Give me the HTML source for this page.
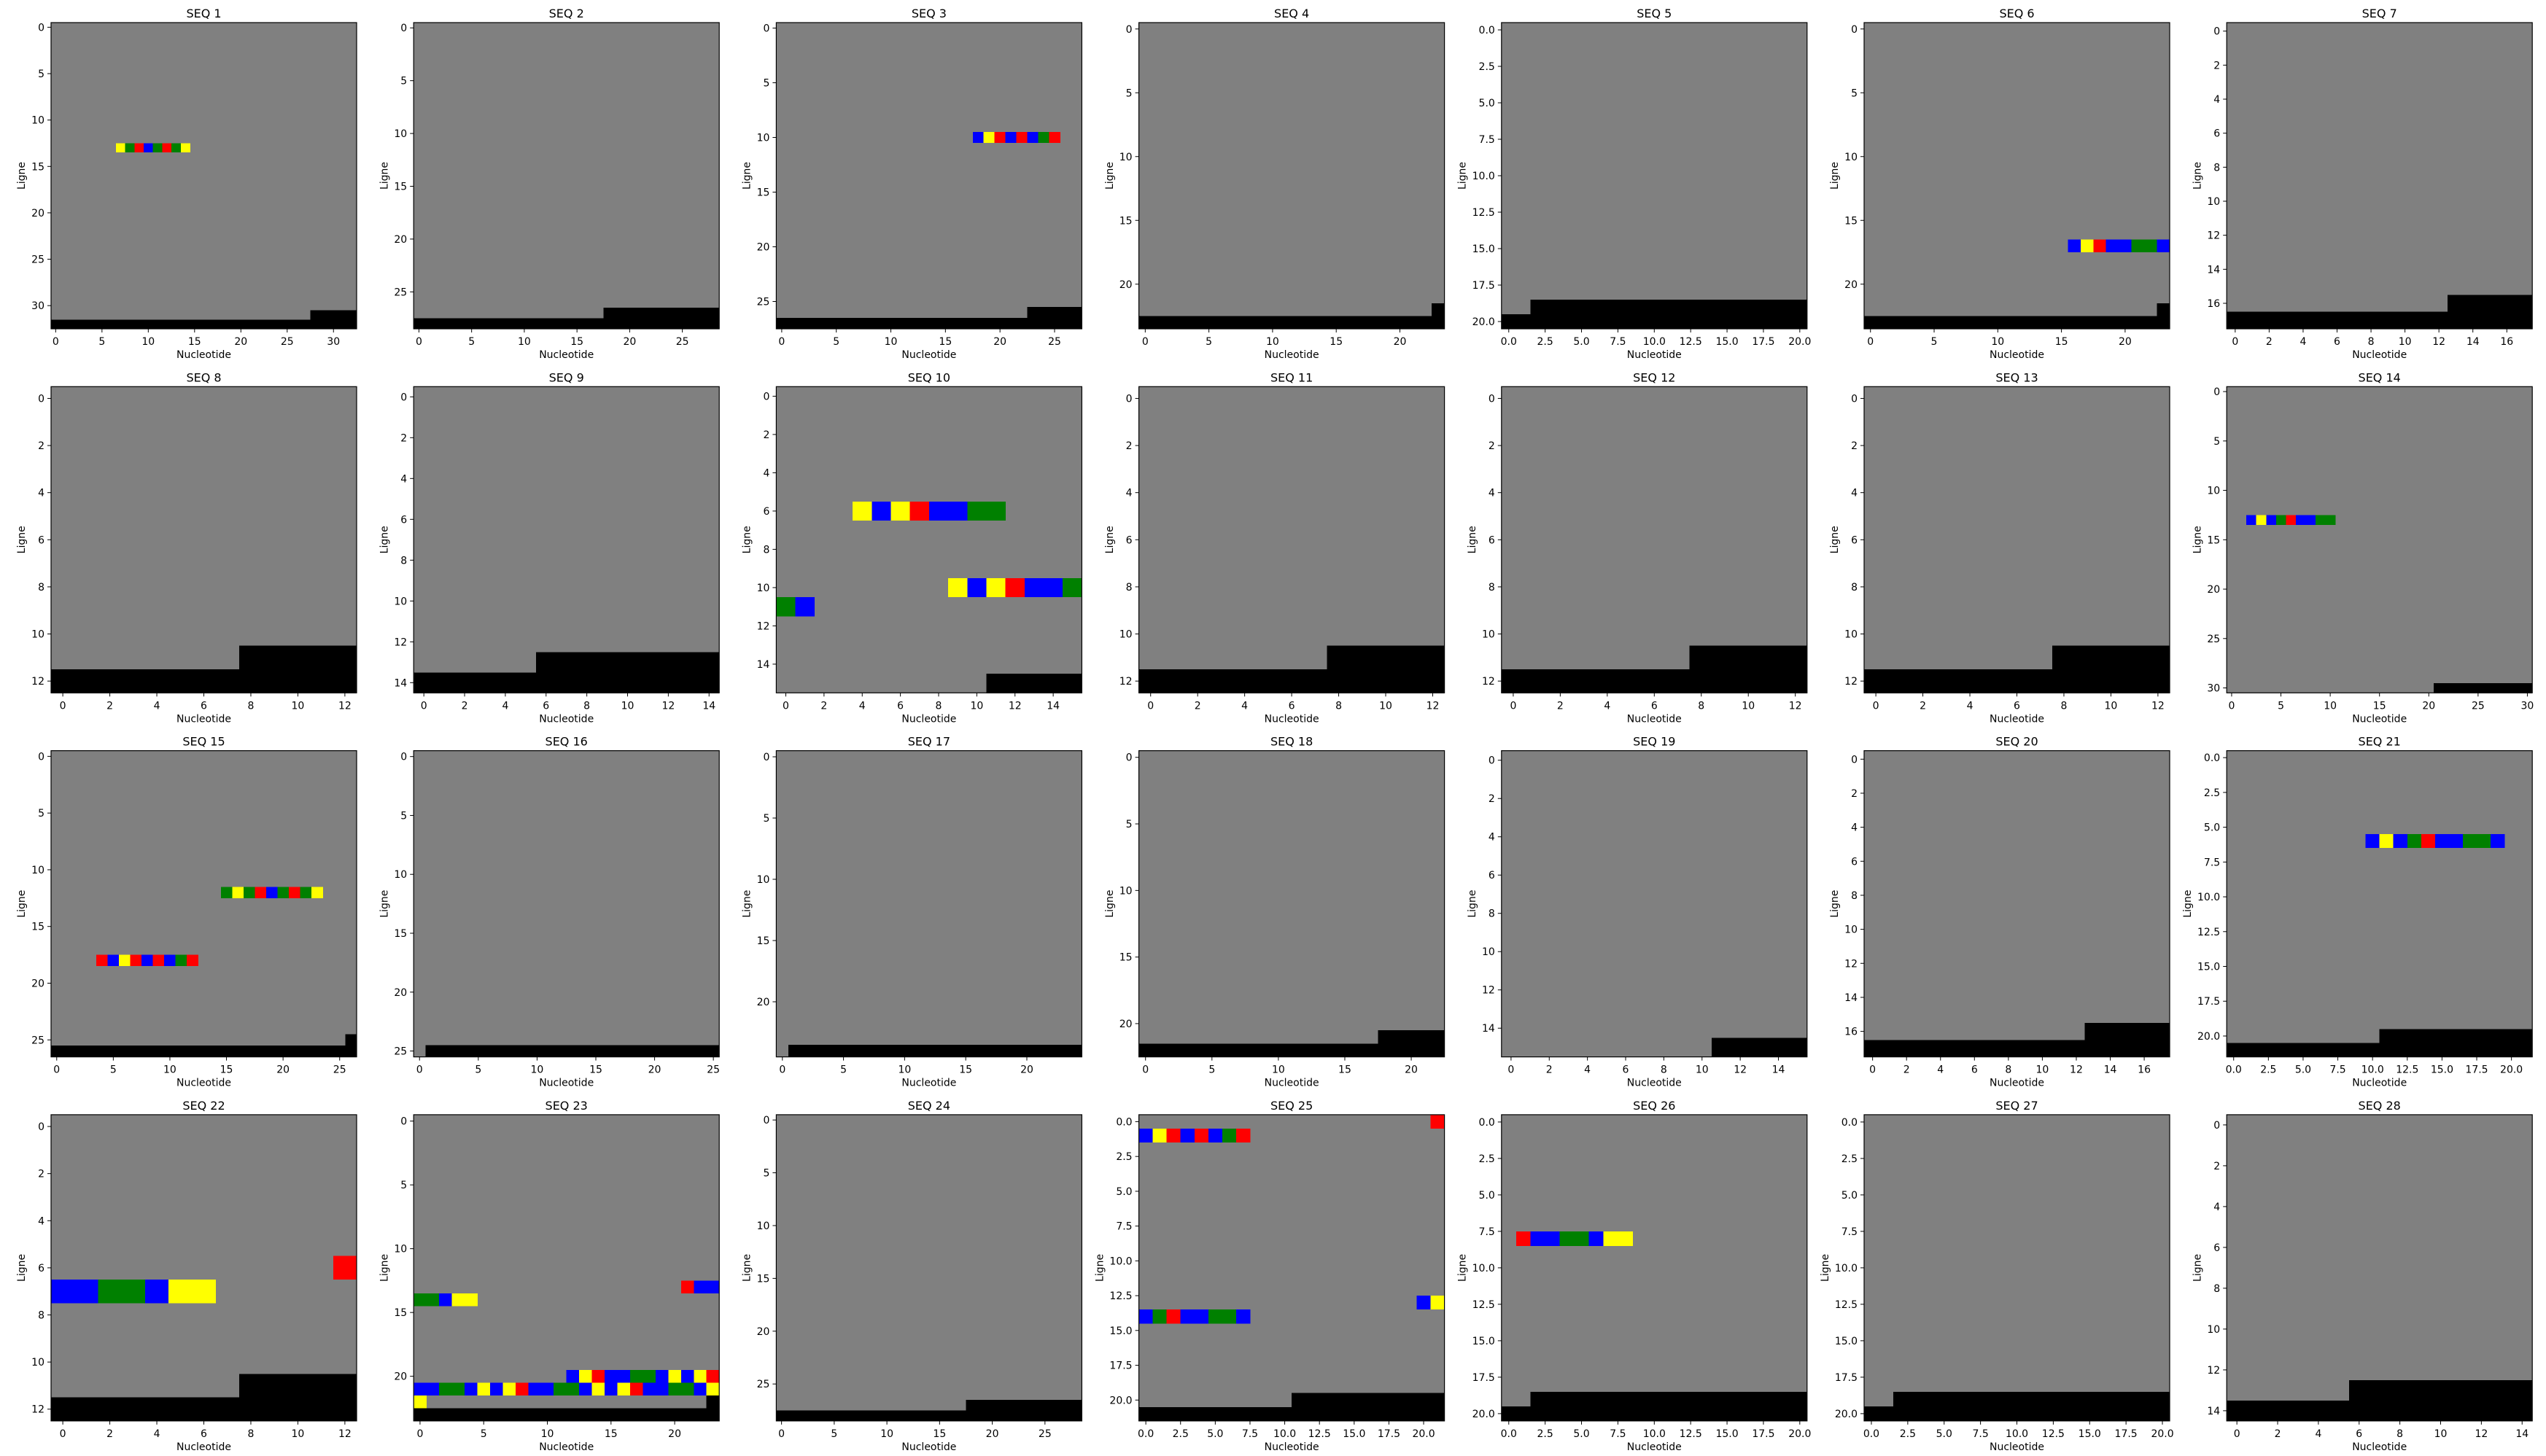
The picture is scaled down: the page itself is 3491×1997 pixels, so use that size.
<!DOCTYPE html>
<html><head><meta charset="utf-8">
<style>
html,body{margin:0;padding:0;background:#fff;}
svg{display:block;}
text{font-family:"DejaVu Sans","Liberation Sans",sans-serif;fill:#000;}
</style></head>
<body>
<svg id="fig" width="3491" height="1997" viewBox="0 0 3491 1997" xmlns="http://www.w3.org/2000/svg"></svg>
<script>
// Grid size (rows = cols) of each sequence panel
const sizes = [33,29,28,24,21,24,18, 13,15,16,13,13,13,31, 27,26,25,23,16,18,22, 13,24,29,22,21,21,15];
// Black runs per panel: [row, startCol, endCol]
const blackRuns = [
 [[32,0,32],[31,28,32]], [[28,0,28],[27,18,28]], [[27,0,27],[26,23,27]], [[23,0,23],[22,23,23]],
 [[20,0,20],[19,2,20]], [[23,0,23],[22,23,23]], [[17,0,17],[16,13,17]],
 [[12,0,12],[11,8,12]], [[14,0,14],[13,6,14]], [[15,11,15]], [[12,0,12],[11,8,12]],
 [[12,0,12],[11,8,12]], [[12,0,12],[11,8,12]], [[30,21,30]],
 [[26,0,26],[25,26,26]], [[25,1,25]], [[24,1,24]], [[22,0,22],[21,18,22]],
 [[15,11,15]], [[17,0,17],[16,13,17]], [[21,0,21],[20,11,21]],
 [[12,0,12],[11,8,12]], [[23,0,23],[22,23,23]], [[28,0,28],[27,18,28]],
 [[21,0,21],[20,11,21]], [[20,0,20],[19,2,20]], [[20,0,20],[19,2,20]], [[14,0,14],[13,6,14]]
];
// Nucleotide sequences per panel: [row, startCol, letters]
const seqs = [
 [[13,7,"YGRBGRGY"]], [], [[10,18,"BYRBRBGR"]], [], [], [[17,16,"BYRBBGGB"]], [],
 [], [], [[6,4,"YBYRBBGG"],[10,9,"YBYRBBG"],[11,0,"GB"]], [], [], [], [[13,2,"BYBGRBBGG"]],
 [[12,15,"GYGRBGRGY"],[18,4,"RBYRBRBGR"]], [], [], [], [], [], [[6,10,"BYBGRBBGGB"]],
 [[6,12,"R"],[7,0,"BBGGBYY"]],
 [[13,21,"RBB"],[14,0,"GGBYY"],[20,12,"BYRBBGGBYBYR"],[21,0,"BBGGBYBYRBBGGBYBYRBBGGBY"],[22,0,"Y"]],
 [], [[0,21,"R"],[1,0,"BYRBRBGR"],[13,20,"BY"],[14,0,"BGRBBGGB"]], [[8,1,"RBBGGBYY"]], [], []
];
const titles = sizes.map((_, i) => "SEQ " + (i + 1));

const colorOf = {Y:"#ffff00", G:"#008000", R:"#ff0000", B:"#0000ff", K:"#000000"};
const NS = "http://www.w3.org/2000/svg";
const svg = document.getElementById('fig');
const AX_W = 419, AX_H = 420;
function mk(tag, attrs, parent){
  const e = document.createElementNS(NS, tag);
  for (const k in attrs) e.setAttribute(k, attrs[k]);
  (parent || svg).appendChild(e);
  return e;
}
function tickStep(n){
  const steps = [1,2,2.5,5,10];
  for (const s of steps) if (n / s <= 9) return s;
  return 10;
}
function labelWidth(s){
  let w = 0;
  for (const ch of s) w += (ch === '.') ? 4.45 : 8.9;
  return w;
}

sizes.forEach((n, i) => {
  const c = i % 7, r = Math.floor(i / 7);
  const left = 70 + c * 497.2;
  const top = 31 + r * 499.3;
  const g = mk('g', {});
  
  
  const cw = AX_W / n, ch = AX_H / n;
  const xs = col => left + (col + 0.5) * cw;   // col center → px
  const ys = row => top + (row + 0.5) * ch;    // row center → px

  const bg = mk('rect', {x:left, y:top, width:AX_W, height:AX_H, fill:'#808080'}, g);
  
  

  blackRuns[i].forEach(b => {
    const x0 = xs(b[1]) - cw / 2, x1 = xs(b[2]) + cw / 2, y0 = ys(b[0]) - ch / 2;
    const e = mk('rect', {x:x0, y:y0, width:x1 - x0, height:ch + 0.5, fill:colorOf.K, 'shape-rendering':'crispEdges'}, g);
    
    
  });
  seqs[i].forEach(s => {
    [...s[2]].forEach((L, k) => {
      const x0 = xs(s[1] + k) - cw / 2, y0 = ys(s[0]) - ch / 2;
      const e = mk('rect', {x:x0, y:y0, width:cw + 0.4, height:ch, fill:colorOf[L], 'shape-rendering':'crispEdges'}, g);
      
      
    });
  });

  const frame = mk('rect', {x:left, y:top, width:AX_W, height:AX_H, fill:'none', stroke:'#000', 'stroke-width':1.2}, g);
  
  

  const step = tickStep(n);
  const dec = (step % 1 !== 0);
  let maxW = 0;
  for (let v = 0; v <= n - 0.5 + 1e-9; v += step) {
    const lab = dec ? v.toFixed(1) : String(v);
    // x tick
    const px = xs(v);
    const tx = mk('line', {x1:px, x2:px, y1:top + AX_H, y2:top + AX_H + 5, stroke:'#000', 'stroke-width':1}, g);
    
    
    const lx = mk('text', {x:px, y:top + AX_H + 22, 'font-size':14, 'text-anchor':'middle'}, g);
    lx.textContent = lab;
    
    
    // y tick
    const py = ys(v);
    const ty = mk('line', {x1:left - 5, x2:left, y1:py, y2:py, stroke:'#000', 'stroke-width':1}, g);
    
    
    const ly = mk('text', {x:left - 9, y:py + 5, 'font-size':14, 'text-anchor':'end'}, g);
    ly.textContent = lab;
    
    
    maxW = Math.max(maxW, labelWidth(lab));
  }
  const t = mk('text', {x:left + AX_W / 2, y:top - 7, 'font-size':16, 'text-anchor':'middle'}, g);
  t.textContent = titles[i];
  
  
  const xl = mk('text', {x:left + AX_W / 2, y:top + AX_H + 40, 'font-size':14, 'text-anchor':'middle'}, g);
  xl.textContent = 'Nucleotide';
  
  
  const yx = left - 9 - maxW - 9;
  const yy = top + AX_H / 2;
  const yl = mk('text', {x:yx, y:yy, 'font-size':14, 'text-anchor':'middle', transform:'rotate(-90 ' + yx + ' ' + yy + ')'}, g);
  yl.textContent = 'Ligne';
  
  
});
</script>
</body></html>
